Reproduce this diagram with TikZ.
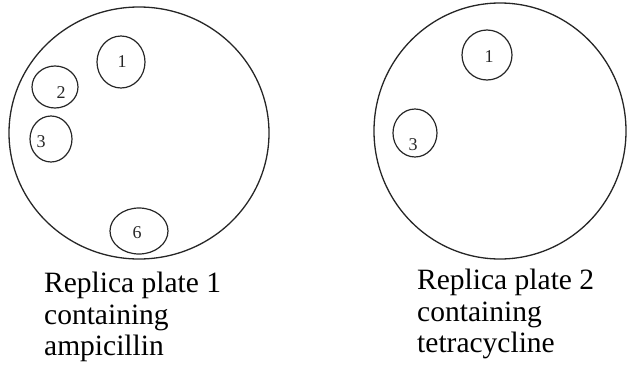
\documentclass[tikz,border=0pt]{standalone}
\usepackage{fontspec}
\setmainfont{Liberation Serif}
\begin{document}
\begin{tikzpicture}[x=1pt,y=-1pt,
  plate/.style={draw=black!85,line width=1.3pt},
  colony/.style={draw=black!85,line width=1.2pt},
  num/.style={font=\fontsize{18}{20}\selectfont,text=black!85,inner sep=0pt},
  captext/.style={font=\fontsize{29.5}{32}\selectfont,text=black,anchor=base west,inner sep=0pt}]
\useasboundingbox (0,0) rectangle (627,367);
% left plate
\draw[plate] (139,133) ellipse [x radius=130,y radius=126];
\draw[colony] (121,62) ellipse [x radius=24,y radius=26];
\draw[colony] (55,87) ellipse [x radius=23,y radius=21];
\draw[colony] (51,139) ellipse [x radius=21,y radius=23];
\draw[colony] (139,231) ellipse [x radius=29,y radius=23];
\node[num] (l1) at (122,62) {1};
\node[num] (l2) at (61,93) {2};
\node[num] (l3) at (41,142) {3};
\node[num] (l6) at (137,233) {6};
% right plate
\draw[plate] (500,131) ellipse [x radius=126,y radius=128];
\draw[colony] (487,55) ellipse [x radius=25,y radius=25];
\draw[colony] (415,133) ellipse [x radius=22,y radius=24];
\node[num] (r1) at (489,57) {1};
\node[num] (r3) at (413,145) {3};
% captions
\node[captext] (la) at (44,292) {Replica plate 1};
\node[captext] (lb) at (44,324) {containing};
\node[captext] (lc) at (44,355) {ampicillin};
\node[captext] (ra) at (417,289) {Replica plate 2};
\node[captext] (rb) at (417,321) {containing};
\node[captext] (rc) at (417,352) {tetracycline};
\end{tikzpicture}
\end{document}
